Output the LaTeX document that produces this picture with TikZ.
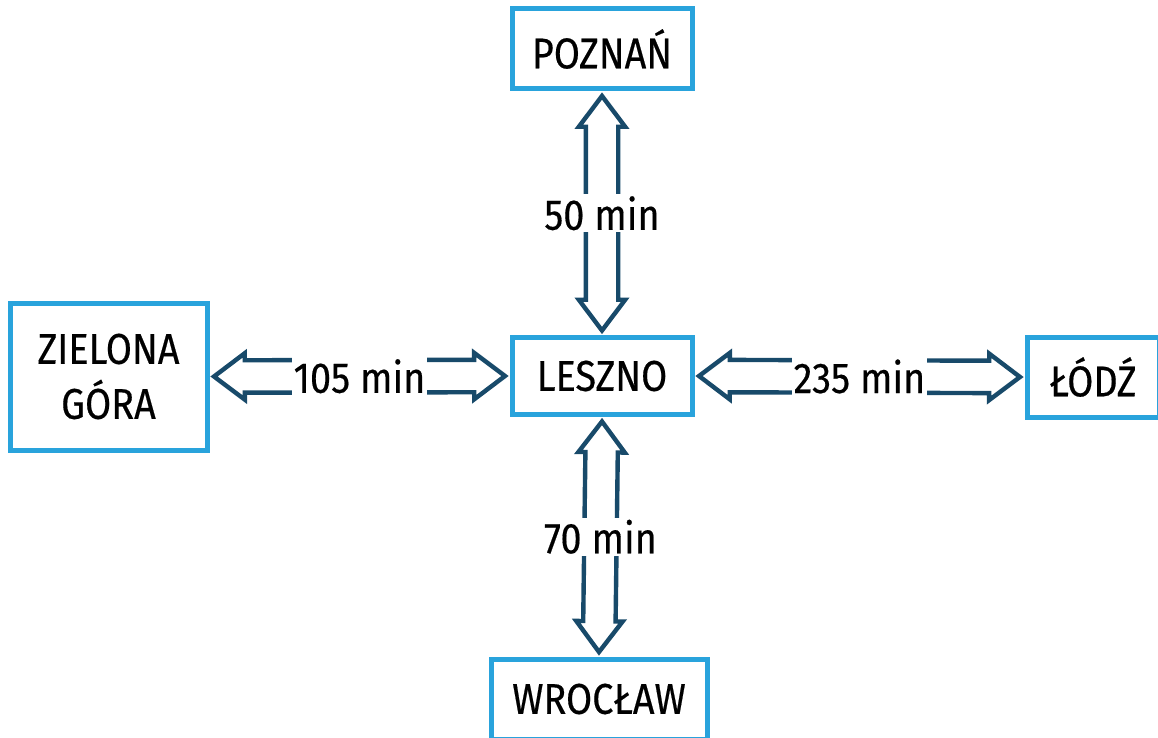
\documentclass[tikz,border=0pt]{standalone}
\usepackage{fontspec}
\setmainfont{Fira Sans}[FakeStretch=0.88,FakeBold=0.4]
\usetikzlibrary{shapes.arrows,calc}
\definecolor{boxblue}{RGB}{41,163,220}
\definecolor{arrowblue}{RGB}{24,74,106}

\begin{document}
\begin{tikzpicture}[x=0.5pt,y=-0.5pt,
city/.style = {
    draw=boxblue, line width=2.5pt, fill=white,
    font=\fontsize{21.5}{27.5}\selectfont, align=center,
    inner sep=0pt, outer sep=3.5pt,
                            },
trip/.style = {
    double arrow, draw=arrowblue, line width=2.2pt, fill=white,
    minimum width=0pt, inner xsep=0pt, inner ysep=7pt,
    double arrow head extend=3.5pt, double arrow tip angle=74,
                            },
minlabel/.style = {fill=white, inner sep=1pt,
    font=\fontsize{21.5}{25}\selectfont},
                    ]
\useasboundingbox (0,0) rectangle (1158,738);
% cities
\node[city, minimum width=90pt, minimum height=38.5pt]
    (leszno) at (602,376) {LESZNO};
\node[city, minimum width=90pt, minimum height=40pt]
    (poznan) at (602,49) {POZNAŃ};
\node[city, minimum width=108pt, minimum height=40pt]
    (wroclaw) at (599,699) {WROCŁAW};
\node[city, minimum width=98.5pt, minimum height=73.5pt]
    (zgora) at (108.5,376.5) {ZIELONA\\GÓRA};
\node[city, minimum width=66pt, minimum height=40pt]
    (lodz) at (1093,377) {ŁÓDŹ};
% trips
\path let \p1=($(leszno.north)-(poznan.south)$), \n1={veclen(\x1,\y1)} in
    (poznan.south) -- (leszno.north)
    node[trip, midway, sloped, minimum height=\n1] (tripP) {}
    node[minlabel, midway] (minP) {50 min};
\path let \p1=($(wroclaw.north)-(leszno.south)$), \n1={veclen(\x1,\y1)} in
    (leszno.south) -- (wroclaw.north)
    node[trip, midway, sloped, minimum height=\n1] (tripW) {}
    node[minlabel, midway] (minW) {70 min};
\path let \p1=($(leszno.west)-(zgora.east)$), \n1={veclen(\x1,\y1)} in
    (zgora.east) -- (leszno.west)
    node[trip, midway, sloped, minimum height=\n1] (tripZ) {}
    node[minlabel, midway] (minZ) {105 min};
\path let \p1=($(lodz.west)-(leszno.east)$), \n1={veclen(\x1,\y1)} in
    (leszno.east) -- (lodz.west)
    node[trip, midway, sloped, minimum height=\n1] (tripL) {}
    node[minlabel, midway] (minL) {235 min};
\end{tikzpicture}
\end{document}
